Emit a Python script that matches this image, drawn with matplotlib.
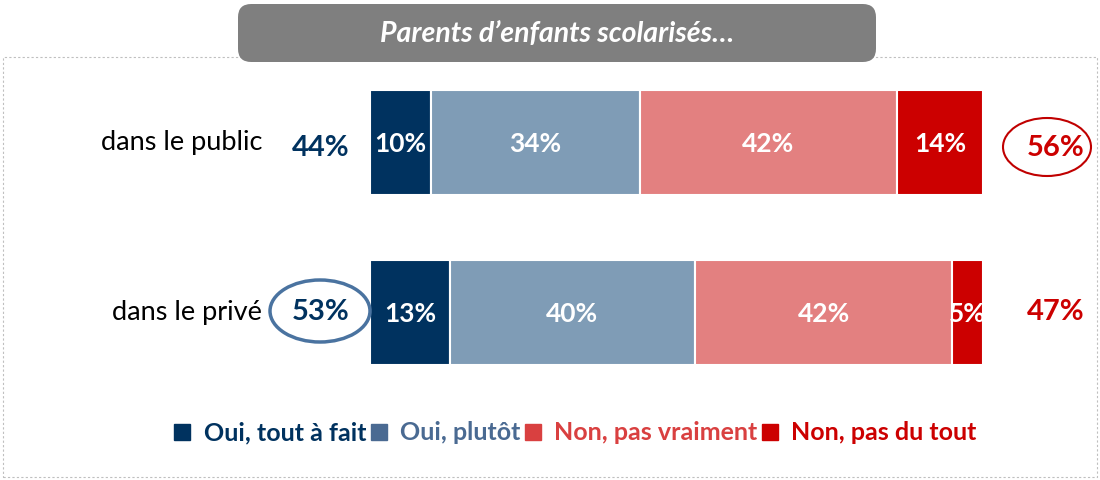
import matplotlib
matplotlib.use("Agg")
import matplotlib.pyplot as plt
from matplotlib.lines import Line2D
from matplotlib.patches import Ellipse, FancyBboxPatch, Rectangle

plt.rcParams["font.family"] = ["Lato", "DejaVu Sans"]

categories = ["dans le public", "dans le privé"]
series = ["Oui, tout à fait", "Oui, plutôt", "Non, pas vraiment", "Non, pas du tout"]
values = {
    "Oui, tout à fait": [10, 13],
    "Oui, plutôt": [34, 40],
    "Non, pas vraiment": [42, 42],
    "Non, pas du tout": [14, 5],
}
total_oui = ["44%", "53%"]
total_non = ["56%", "47%"]
title = "Parents d’enfants scolarisés…"

colors = ["#00325F", "#7F9CB6", "#E38080", "#CC0000"]
legend_colors = ["#00325F", "#4A6A92", "#D94040", "#CC0000"]

W, H = 1100, 480
fig = plt.figure(figsize=(W / 100, H / 100), dpi=100)

# dashed frame around the chart area
fig.add_artist(Rectangle((3 / W, 3 / H), 1094 / W, 420 / H, transform=fig.transFigure,
                         fill=False, edgecolor="#BFBFBF", lw=0.8, ls=(0, (2, 2))))

# title box
fig.add_artist(FancyBboxPatch((238 / W, 418 / H), 638 / W, 58 / H,
                              boxstyle="round,pad=0,rounding_size=0.012",
                              transform=fig.transFigure, facecolor="#7F7F7F",
                              edgecolor="none", mutation_aspect=W / H))
fig.text(557 / W, 1 - 34 / H, title, color="white", fontsize=20.5, fontweight="bold",
         fontstyle="italic", ha="center", va="center")

ax = fig.add_axes([370 / W, 1 - 365 / H, 613 / W, 275 / H])
ax.set_xlim(0, 100)
ax.set_ylim(1 + 0.309, -0.309)
ax.axis("off")

ypos = list(range(len(categories)))
left = [0] * len(categories)
for name, col in zip(series, colors):
    vals = values[name]
    ax.barh(ypos, vals, left=left, height=0.6176, color=col, edgecolor="white", lw=1.5)
    for y, v, l in zip(ypos, vals, left):
        ax.text(l + v / 2, y + 0.01, f"{v}%", color="white", fontsize=19, fontweight="bold",
                ha="center", va="center")
    left = [a + b for a, b in zip(left, vals)]

for y, cat in zip(ypos, categories):
    ax.text(-17.6, y, cat, fontsize=19.5, ha="right", va="center", color="black")

# totals
for y, t in zip(ypos, total_oui):
    ax.text(-8.1, y + 0.03 - 0.03 * y, t, color="#00325F", fontsize=21, fontweight="bold",
            ha="center", va="center")
for y, t in zip(ypos, total_non):
    ax.text(111.8, y + 0.03 - 0.03 * y, t, color="#CC0000", fontsize=21, fontweight="bold",
            ha="center", va="center")

# highlight ellipses
fig.add_artist(Ellipse((320 / W, 1 - 311 / H), 100 / W, 62 / H, transform=fig.transFigure,
                       fill=False, edgecolor="#4A73A0", lw=2.5))
fig.add_artist(Ellipse((1047 / W, 1 - 147 / H), 88 / W, 58 / H, transform=fig.transFigure,
                       fill=False, edgecolor="#C00000", lw=1.5))

handles = [Line2D([], [], marker="s", ls="none", markersize=12, markerfacecolor=c,
                  markeredgecolor=c) for c in legend_colors]
leg = fig.legend(handles, series, loc="center", bbox_to_anchor=(575 / W, 1 - 433 / H),
                 ncol=4, frameon=False, handlelength=0.7, handletextpad=0.5,
                 columnspacing=0.15, prop={"size": 18, "weight": "bold"})
for t, c in zip(leg.get_texts(), legend_colors):
    t.set_color(c)

fig.savefig("out.png", dpi=100)
